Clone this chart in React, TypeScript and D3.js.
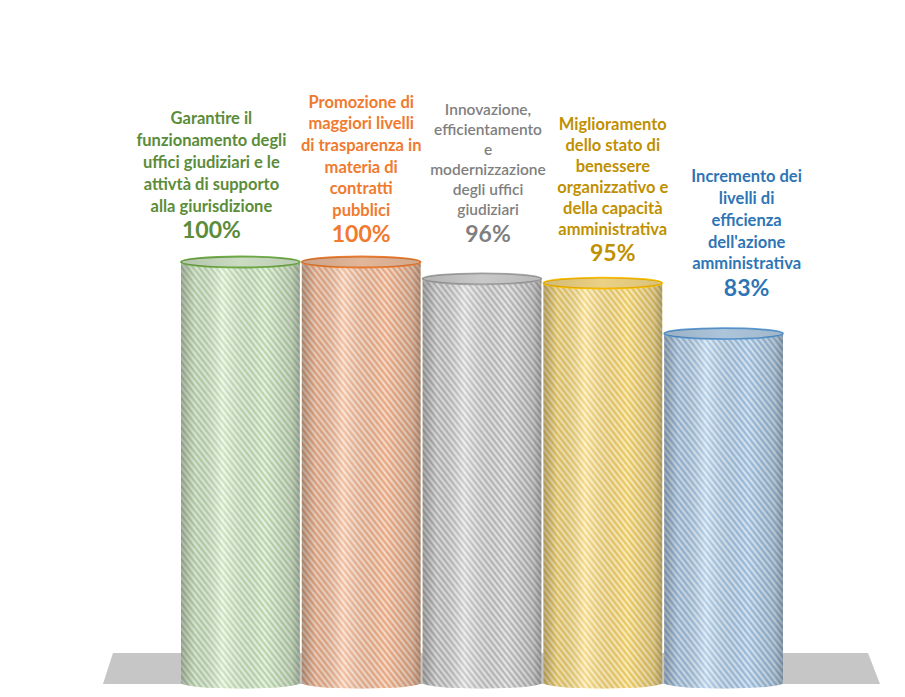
import React from "react";
import * as d3 from "d3";

const categories = [
  ["Garantire il", "funzionamento degli", "uffici giudiziari e le", "attivtà di supporto", "alla giurisdizione"],
  ["Promozione di", "maggiori livelli", "di trasparenza in", "materia di", "contratti", "pubblici"],
  ["Innovazione,", "efficientamento", "e", "modernizzazione", "degli uffici", "giudiziari"],
  ["Miglioramento", "dello stato di", "benessere", "organizzativo e", "della capacità", "amministrativa"],
  ["Incremento dei", "livelli di", "efficienza", "dell'azione", "amministrativa"],
];
const values = [100, 100, 96, 95, 83];
const valueLabels = ["100%", "100%", "96%", "95%", "83%"];
const textColors = ["#5b8c3a", "#f07a2e", "#7f7f7f", "#bf9000", "#2e75b6"];
const fillColors = ["#dcefd2", "#f6c6a6", "#dadada", "#ffe38f", "#bcd6ee"];
const stripeColors = ["#9cc48a", "#e2946a", "#9e9e9e", "#d9b640", "#7fa7cc"];
const edgeColors = ["#70ad47", "#ed7d31", "#a5a5a5", "#ffc000", "#5b9bd5"];

// layout constants
const W = 905, H = 697;
const labelDx = [-29, 0, 6, 10, 23];
const labelGap = [24, 20, 37, 22, 38];
const lineH = [22, 21.6, 20, 21, 21.8];

export default function App() {
  const x = d3.scaleBand<number>().domain(d3.range(values.length)).range([180, 784]).padding(0);
  const y = d3.scaleLinear().domain([0, 100]).range([683, 262]);
  const ry = 5.5;
  const bw = x.bandwidth();

  return (
    <svg width={W} height={H} style={{ position: "absolute", left: 0, top: 0, background: "#fff" }}>
      <defs>
        {stripeColors.map((c, i) => (
          <pattern key={i} id={"stripes" + i} width="4.5" height="4.5" patternUnits="userSpaceOnUse" patternTransform="rotate(-38)">
            <line x1="1" y1="0" x2="1" y2="4.5" stroke={c} strokeWidth="1.6" strokeOpacity="0.55" />
            <line x1="3.3" y1="0" x2="3.3" y2="4.5" stroke="#ffffff" strokeWidth="1.2" strokeOpacity="0.6" />
          </pattern>
        ))}
        <linearGradient id="shade" x1="0" x2="1" y1="0" y2="0">
          <stop offset="0" stopColor="#000" stopOpacity="0.28" />
          <stop offset="0.12" stopColor="#000" stopOpacity="0.08" />
          <stop offset="0.35" stopColor="#fff" stopOpacity="0.25" />
          <stop offset="0.7" stopColor="#000" stopOpacity="0.02" />
          <stop offset="0.93" stopColor="#000" stopOpacity="0.15" />
          <stop offset="1" stopColor="#000" stopOpacity="0.3" />
        </linearGradient>
        <linearGradient id="topShade" x1="0" x2="1" y1="0" y2="0">
          <stop offset="0" stopColor="#000" stopOpacity="0.18" />
          <stop offset="0.5" stopColor="#000" stopOpacity="0.08" />
          <stop offset="1" stopColor="#000" stopOpacity="0.15" />
        </linearGradient>
      </defs>
      <path d="M113,653 L868,653 L880,684 L103,684 Z" fill="#c6c6c6" />
      {values.map((v, i) => {
        const x0 = x(i)! + 1;
        const x1 = x(i)! + bw - 1;
        const rx = (x1 - x0) / 2;
        const yt = y(v);
        const yb = y(0);
        const body = `M${x0},${yt} L${x0},${yb} A${rx},${ry} 0 0 0 ${x1},${yb} L${x1},${yt} A${rx},${ry} 0 0 1 ${x0},${yt} Z`;
        return (
          <g key={i}>
            <path d={body} fill={fillColors[i]} />
            <path d={body} fill={`url(#stripes${i})`} />
            <path d={body} fill="url(#shade)" />
            <ellipse cx={(x0 + x1) / 2} cy={yt} rx={rx} ry={ry} fill={fillColors[i]} stroke={edgeColors[i]} strokeWidth={1.8} />
            <ellipse cx={(x0 + x1) / 2} cy={yt} rx={rx} ry={ry} fill="url(#topShade)" />
          </g>
        );
      })}
      {values.map((v, i) => {
        const cx = x(i)! + bw / 2 + labelDx[i];
        const pctY = y(v) - ry - labelGap[i];
        const lines = categories[i];
        const firstY = pctY - 25 - (lines.length - 1) * lineH[i];
        const isGray = i === 2;
        return (
          <g key={"l" + i} fill={textColors[i]} textAnchor="middle" fontFamily="Lato, 'Open Sans', sans-serif">
            {lines.map((ln, j) => (
              <text key={j} x={cx} y={firstY + j * lineH[i]} fontSize={isGray ? 15.5 : 16.5} fontWeight={isGray ? 600 : 700} dominantBaseline="middle">
                {ln}
              </text>
            ))}
            <text x={cx} y={pctY} fontSize={23} fontWeight={700} dominantBaseline="middle">
              {valueLabels[i]}
            </text>
          </g>
        );
      })}
    </svg>
  );
}
